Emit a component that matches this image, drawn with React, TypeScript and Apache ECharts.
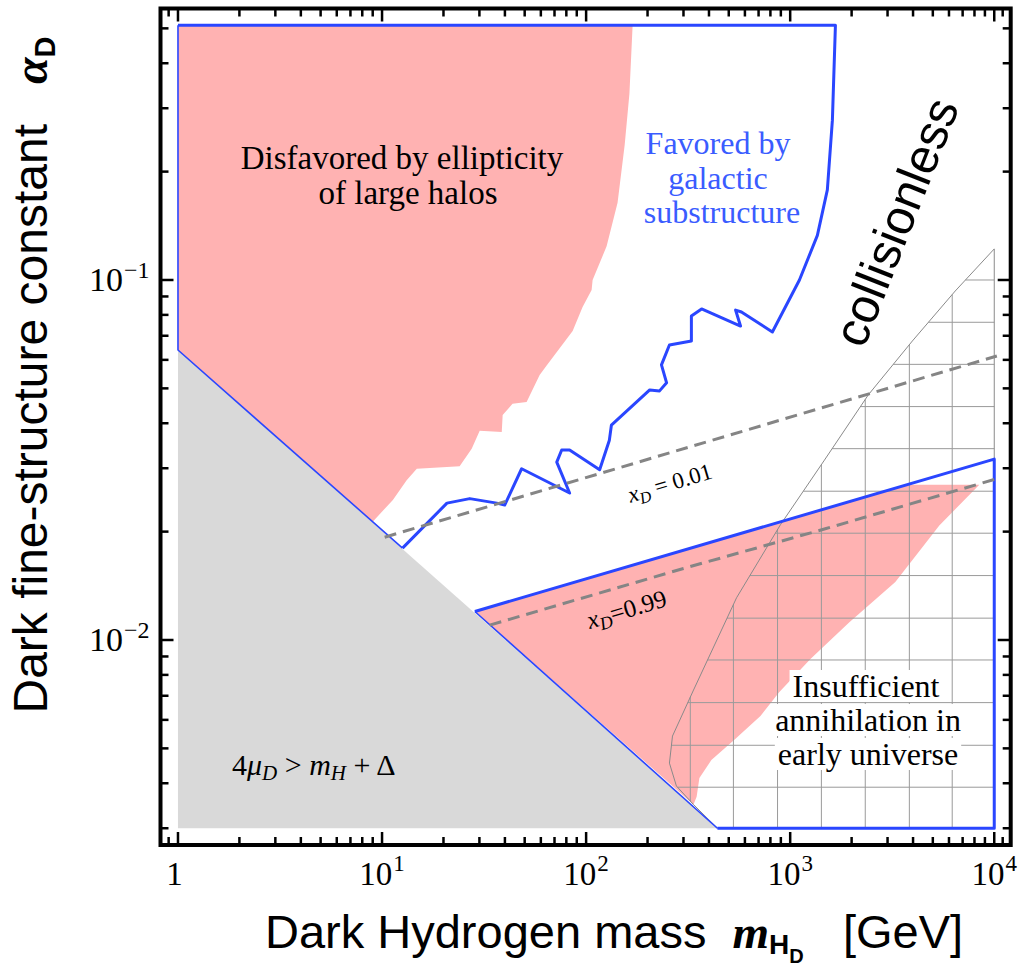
import React, { useEffect, useRef } from "react";
import * as echarts from "echarts";

const SERIF = "Liberation Serif";
const SANS = "Liberation Sans";
const BLUE = "#2a46ff";
const BLUE_TEXT = "#3a5cff";
const PINK = "#ffb2b2";
const GREY = "#d9d9d9";

// axis extents (log axes)
const X_MIN = 0.821;
const X_MAX = 12040;
const Y_MIN = 0.002695;
const Y_MAX = 0.5677;

// tick values
const xMajorTicks = [1, 10, 100, 1000, 10000];
const xMinorTicks = [0.9, 2, 3, 4, 5, 6, 7, 8, 9, 20, 30, 40, 50, 60, 70, 80, 90, 200, 300, 400, 500, 600, 700, 800, 900, 2000, 3000, 4000, 5000, 6000, 7000, 8000, 9000, 11000];
const yMajorTicks = [0.01, 0.1];
const yMinorTicks = [0.003, 0.004, 0.005, 0.006, 0.007, 0.008, 0.009, 0.02, 0.03, 0.04, 0.05, 0.06, 0.07, 0.08, 0.09, 0.2, 0.3, 0.4, 0.5];

// grey excluded region 4mu_D > m_H + Delta
const greyM = [1, 1, 440];
const greyA = [0.003, 0.0639, 0.003];

// pink: disfavored by ellipticity of large halos
const ellipM = [1, 169, 163, 154.5, 142.6, 126, 107.6, 106.4, 96.1, 85.9, 64.2, 59.2, 51.1, 43.6, 39, 38.6, 30.1, 27.5, 24, 14.8, 13.2, 11.3, 9.0, 1];
const ellipA = [0.51, 0.51, 0.329, 0.237, 0.164, 0.124, 0.1, 0.0938, 0.0841, 0.0722, 0.058, 0.0545, 0.0458, 0.0453, 0.0422, 0.0378, 0.0381, 0.034, 0.0304, 0.0299, 0.0278, 0.0245, 0.0213, 0.0639];

// favored by galactic substructure: thick outline
const favM = [1, 1666, 1610, 1521, 1359, 1110, 818, 577, 540, 571, 368, 328, 328, 256, 234, 248, 229, 205, 133, 130, 116.5, 83, 75.9, 71.8, 83, 48.3, 39.9, 36.5, 26.9, 20.8, 12.6];
const favA = [0.51, 0.51, 0.278, 0.178, 0.133, 0.1, 0.0717, 0.0815, 0.0825, 0.0745, 0.0831, 0.0794, 0.0677, 0.066, 0.0581, 0.0518, 0.0492, 0.0495, 0.0395, 0.0359, 0.0297, 0.0337, 0.0337, 0.0312, 0.0256, 0.0299, 0.0237, 0.024, 0.0247, 0.024, 0.018];
// thin part of that outline
const favThinM = [12.6, 1, 1];
const favThinA = [0.018, 0.0639, 0.51];

// lower blue region (x_D = 0.99)
const lowM = [28.5, 10000, 10000, 440];
const lowA = [0.012, 0.0318, 0.003, 0.003];
const lowThinM = [440, 28.5];
const lowThinA = [0.003, 0.012];

// lower pink region
const lowPinkM = [28.5, 3625, 8450, 5380, 3275, 1950, 1257, 885, 715, 533, 411, 359, 348, 336];
const lowPinkA = [0.012, 0.027, 0.027, 0.0208, 0.0145, 0.0112, 0.00886, 0.00717, 0.00615, 0.00528, 0.00464, 0.00414, 0.00367, 0.00349];

// dashed contours
const xd01M = [10.3, 10300];
const xd01A = [0.0193, 0.0615];
const xd99M = [33.7, 300, 1500, 10400];
const xd99A = [0.011, 0.0158, 0.0204, 0.0281];

// hatched region (insufficient annihilation) boundary
const hatchM = [10000, 6440, 3970, 2417, 1472, 896, 546, 336, 265, 256, 277, 336, 440, 10000];
const hatchA = [0.122, 0.0932, 0.0677, 0.048, 0.0316, 0.0209, 0.0131, 0.00726, 0.00541, 0.00455, 0.00393, 0.00349, 0.003, 0.003];
// hatch mesh lines
const hatchVM = [324, 527, 867, 1422, 2333, 3837, 6223];
const hatchHA = [0.1, 0.0763, 0.0583, 0.0445, 0.034, 0.0259, 0.0198, 0.0151, 0.0115, 0.0088, 0.0067, 0.0051, 0.0039];

const zip = (a: number[], b: number[]) => a.map((v, i) => [v, b[i]]);

function crossings(poly: number[][], axis: number, level: number): number[] {
  const res: number[] = [];
  const other = 1 - axis;
  for (let i = 0; i < poly.length; i++) {
    const a = poly[i];
    const b = poly[(i + 1) % poly.length];
    const va = a[axis];
    const vb = b[axis];
    if ((va <= level && vb > level) || (vb <= level && va > level)) {
      const t = (level - va) / (vb - va);
      res.push(a[other] + t * (b[other] - a[other]));
    }
  }
  return res.sort((p, q) => p - q);
}

const polygonSeries = (ms: number[], as: number[], fill: string, z: number) => ({
  type: "custom",
  coordinateSystem: "cartesian2d",
  silent: true,
  clip: false,
  z,
  data: [[ms[0], as[0]]],
  renderItem: (_p: any, api: any) => ({
    type: "polygon",
    shape: { points: ms.map((m, i) => api.coord([m, as[i]])) },
    style: { fill, stroke: null },
  }),
});

const lineSeries = (ms: number[], as: number[], color: string, width: number, z: number, dash?: number[]) => ({
  type: "line",
  data: zip(ms, as),
  showSymbol: false,
  symbol: "none",
  silent: true,
  z,
  clip: false,
  lineStyle: { color, width, type: dash ? dash : "solid", join: "round", cap: "butt" },
});

const supRich = (base: number, sup: number, raise: number) => ({
  b: { fontFamily: SERIF, fontSize: base, lineHeight: base, verticalAlign: "bottom", color: "#000" },
  s: { fontFamily: SERIF, fontSize: sup, lineHeight: sup, verticalAlign: "bottom", padding: [0, 0, raise, 1], color: "#000" },
});

// rich token style: all bottom aligned, raised by pad
const tok = (family: string, size: number, pad: number, extra: any = {}) => ({
  fontFamily: family, fontSize: size, lineHeight: size, verticalAlign: "bottom", padding: [0, 0, pad, 0], fill: "#000", ...extra,
});

const isPow = (v: number) => {
  const l = Math.log10(v);
  return Math.abs(l - Math.round(l)) < 1e-6;
};

export default function App() {
  const ref = useRef<HTMLDivElement>(null);
  useEffect(() => {
    if (!ref.current) return;
    const chart = echarts.init(ref.current, undefined, { renderer: "svg" });
    const deg = Math.PI / 180;
    const IT = { fontStyle: "italic" };
    const BI = { fontStyle: "italic", fontWeight: "bold" };
    const BD = { fontWeight: "bold" };

    const option: any = {
      animation: false,
      backgroundColor: "#fff",
      grid: { left: 160.5, right: 8.5, top: 8.5, bottom: 135, show: true, borderColor: "#000", borderWidth: 4, backgroundColor: "transparent" },
      xAxis: {
        type: "log",
        logBase: 10,
        min: X_MIN,
        max: X_MAX,
        axisLine: { show: false },
        axisTick: { show: false },
        minorTick: { show: false },
        splitLine: { show: false },
        axisLabel: {
          interval: 0,
          margin: 12,
          formatter: (v: number) => {
            if (!isPow(v)) return "";
            const k = Math.round(Math.log10(v));
            return k === 0 ? "{b|1}{s| }" : `{b|10}{s|${k}}`;
          },
          rich: supRich(33, 23, 15),
        },
      },
      yAxis: {
        type: "log",
        logBase: 10,
        min: Y_MIN,
        max: Y_MAX,
        axisLine: { show: false },
        axisTick: { show: false },
        minorTick: { show: false },
        splitLine: { show: false },
        axisLabel: {
          interval: 0,
          margin: 11,
          formatter: (v: number) => {
            if (!isPow(v)) return "";
            const k = Math.round(Math.log10(v));
            return `{b|10}{s|\u2212${-k}}`;
          },
          rich: supRich(34, 24, 15),
        },
      },
      series: [
        polygonSeries(greyM, greyA, GREY, 1),
        polygonSeries(ellipM, ellipA, PINK, 2),
        polygonSeries(lowPinkM, lowPinkA, PINK, 2),
        {
          type: "custom",
          coordinateSystem: "cartesian2d",
          silent: true,
          clip: false,
          z: 3,
          data: [[hatchM[0], hatchA[0]]],
          renderItem: (_p: any, api: any) => {
            const poly = hatchM.map((m, i) => [Math.log10(m), Math.log10(hatchA[i])]);
            const toPx = (lx: number, ly: number) => api.coord([Math.pow(10, lx), Math.pow(10, ly)]);
            const children: any[] = [];
            const seg = (p1: number[], p2: number[]) =>
              children.push({ type: "line", shape: { x1: p1[0], y1: p1[1], x2: p2[0], y2: p2[1] }, style: { stroke: "#9a9a9a", lineWidth: 1 } });
            hatchVM.forEach((m) => {
              const lx = Math.log10(m);
              const c = crossings(poly, 0, lx);
              for (let i = 0; i + 1 < c.length; i += 2) seg(toPx(lx, c[i]), toPx(lx, c[i + 1]));
            });
            hatchHA.forEach((a) => {
              const ly = Math.log10(a);
              const c = crossings(poly, 1, ly);
              for (let i = 0; i + 1 < c.length; i += 2) seg(toPx(c[i], ly), toPx(c[i + 1], ly));
            });
            children.push({
              type: "polygon",
              shape: { points: hatchM.map((m, i) => api.coord([m, hatchA[i]])) },
              style: { fill: null, stroke: "#8a8a8a", lineWidth: 1 },
            });
            return { type: "group", children };
          },
        },
        lineSeries(favThinM, favThinA, BLUE, 1.6, 4),
        lineSeries(lowThinM, lowThinA, BLUE, 1.6, 4),
        lineSeries(favM, favA, BLUE, 3, 5),
        lineSeries(lowM, lowA, BLUE, 3, 5),
        lineSeries(xd01M, xd01A, "#858585", 3, 6, [12, 7]),
        lineSeries(xd99M, xd99A, "#858585", 3, 6, [12, 7]),
        {
          type: "custom",
          coordinateSystem: "cartesian2d",
          silent: true,
          clip: false,
          z: 10,
          data: [[1, 0.1]],
          renderItem: (_p: any, api: any) => {
            const children: any[] = [];
            const add = (x1: number, y1: number, x2: number, y2: number) =>
              children.push({ type: "line", shape: { x1, y1, x2, y2 }, style: { stroke: "#000", lineWidth: 2.5 } });
            const xt = (v: number, len: number) => {
              const b = api.coord([v, Y_MIN]);
              const t = api.coord([v, Y_MAX]);
              add(b[0], b[1], b[0], b[1] - len);
              add(t[0], t[1], t[0], t[1] + len);
            };
            const yt = (v: number, len: number) => {
              const l = api.coord([X_MIN, v]);
              const r = api.coord([X_MAX, v]);
              add(l[0], l[1], l[0] + len, l[1]);
              add(r[0], r[1], r[0] - len, r[1]);
            };
            xMajorTicks.forEach((v) => xt(v, 13));
            xMinorTicks.forEach((v) => xt(v, 8));
            yMajorTicks.forEach((v) => yt(v, 13));
            yMinorTicks.forEach((v) => yt(v, 8));
            return { type: "group", children };
          },
        },
      ],
      graphic: [
        { type: "text", z: 100, x: 402, y: 158, style: { text: "Disfavored by ellipticity", fontFamily: SERIF, fontSize: 33, fill: "#000", align: "center", verticalAlign: "middle" } },
        { type: "text", z: 100, x: 408, y: 193, style: { text: "of large halos", fontFamily: SERIF, fontSize: 33, fill: "#000", align: "center", verticalAlign: "middle" } },
        { type: "text", z: 100, x: 718, y: 143, style: { text: "Favored by", fontFamily: SERIF, fontSize: 32, fill: BLUE_TEXT, align: "center", verticalAlign: "middle" } },
        { type: "text", z: 100, x: 718, y: 178, style: { text: "galactic", fontFamily: SERIF, fontSize: 32, fill: BLUE_TEXT, align: "center", verticalAlign: "middle" } },
        { type: "text", z: 100, x: 722, y: 212, style: { text: "substructure", fontFamily: SERIF, fontSize: 32, fill: BLUE_TEXT, align: "center", verticalAlign: "middle" } },
        { type: "text", z: 100, x: 896, y: 222, rotation: 68.5 * deg, style: { text: "collisionless", fontFamily: SANS, fontSize: 49, fill: "#000", align: "center", verticalAlign: "middle" } },
        { type: "text", z: 100, x: 866, y: 686, style: { text: "Insufficient", fontFamily: SERIF, fontSize: 32, fill: "#000", align: "center", verticalAlign: "middle", backgroundColor: "#fff", padding: [0, 3, 0, 3] } },
        { type: "text", z: 100, x: 868, y: 720, style: { text: "annihilation in", fontFamily: SERIF, fontSize: 32, fill: "#000", align: "center", verticalAlign: "middle", backgroundColor: "#fff", padding: [0, 3, 0, 3] } },
        { type: "text", z: 100, x: 868, y: 754, style: { text: "early universe", fontFamily: SERIF, fontSize: 32, fill: "#000", align: "center", verticalAlign: "middle", backgroundColor: "#fff", padding: [0, 3, 0, 3] } },
        {
          type: "text", z: 100, x: 671, y: 487, rotation: 16.5 * deg,
          style: {
            text: "{x|x}{d|D}{n| = 0.01}", align: "center", verticalAlign: "middle",
            rich: { x: tok(SERIF, 23, 4, IT), d: tok(SERIF, 16, 1, IT), n: tok(SERIF, 23, 4) },
          },
        },
        {
          type: "text", z: 100, x: 628, y: 614, rotation: 16.5 * deg,
          style: {
            text: "{x|x}{d|D}{n|=0.99}", align: "center", verticalAlign: "middle",
            rich: { x: tok(SERIF, 25, 5, IT), d: tok(SERIF, 18, 1.5, IT), n: tok(SERIF, 25, 5) },
          },
        },
        {
          type: "text", z: 100, x: 232, y: 770,
          style: {
            text: "{n|4}{i|\u03bc}{d|D}{n| > }{i|m}{d|H}{n| + \u0394}", align: "left", verticalAlign: "middle",
            rich: { n: tok(SERIF, 30, 6), i: tok(SERIF, 30, 6, IT), d: tok(SERIF, 21, 1.5, IT) },
          },
        },
        {
          type: "text", z: 100, x: 265, y: 922,
          style: {
            text: "{t|Dark Hydrogen mass  }{m|m}{h|H}{d|D}{t|   [GeV]}", align: "left", verticalAlign: "top",
            rich: { t: tok(SANS, 47, 14), m: tok(SERIF, 47, 14, BI), h: tok(SANS, 28, 10.5, BD), d: tok(SANS, 20, 3, BD) },
          },
        },
        {
          type: "text", z: 100, x: 16, y: 375, rotation: 90 * deg,
          style: {
            text: "{t|Dark fine-structure constant   }{a|\u03b1}{d|D}", align: "center", verticalAlign: "top",
            rich: { t: tok(SANS, 48, 10), a: tok(SERIF, 48, 10, BI), d: tok(SANS, 29, 5, BD) },
          },
        },
      ],
    };
    chart.setOption(option);
    return () => chart.dispose();
  }, []);
  return <div ref={ref} style={{ position: "absolute", left: 0, top: 0, width: 1020, height: 980 }} />;
}
